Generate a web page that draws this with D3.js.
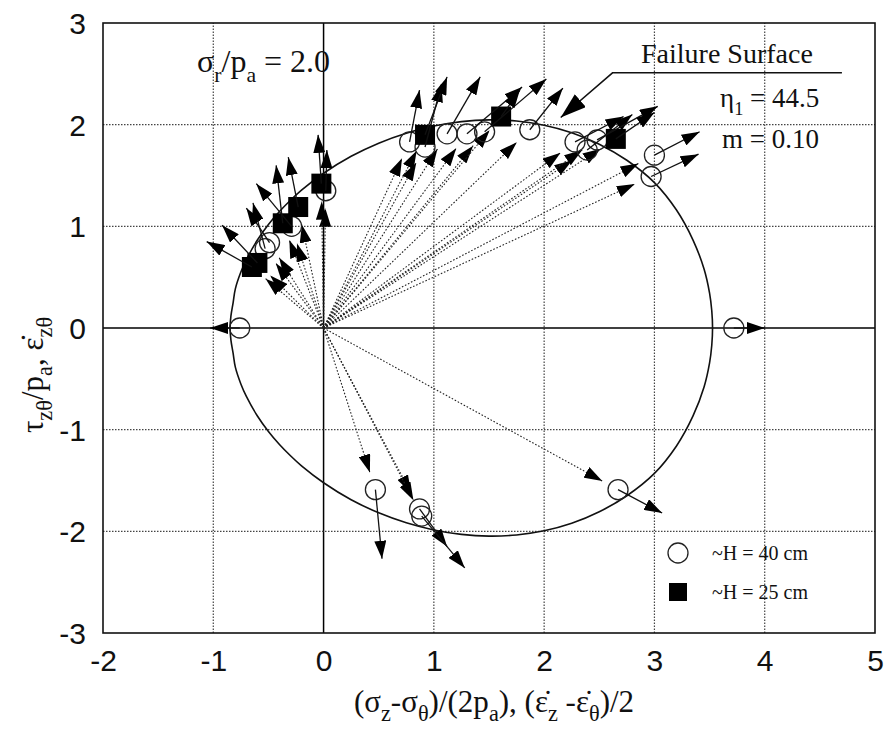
<!DOCTYPE html>
<html>
<head>
<meta charset="utf-8">
<script src="https://cdn.jsdelivr.net/npm/d3@7"></script>
<style>
  body { margin: 0; background: #fff; }
  text { fill: #111; }
</style>
</head>
<body>
<svg id="chart" width="891" height="729"></svg>
<script>
// ---- axis ticks ----
const xTicks = [-2, -1, 0, 1, 2, 3, 4, 5];
const yTicks = [-3, -2, -1, 0, 1, 2, 3];

// ---- failure surface (eta1 = 44.5, m = 0.10, sigma_r/pa = 2.0), upper branch ----
const surfaceX = [-0.848, -0.84, -0.82, -0.80, -0.75, -0.70, -0.60, -0.50, -0.40, -0.30, -0.20, 0.00, 0.25, 0.50, 0.75, 1.00, 1.25, 1.50, 1.75, 2.00, 2.25, 2.50, 2.75, 3.00, 3.20, 3.35, 3.45, 3.50, 3.52, 3.527];
const surfaceY = [0.00, 0.12, 0.25, 0.385, 0.55, 0.673, 0.866, 1.018, 1.146, 1.257, 1.356, 1.522, 1.689, 1.818, 1.916, 1.986, 2.030, 2.047, 2.036, 1.995, 1.921, 1.808, 1.650, 1.430, 1.160, 0.865, 0.580, 0.343, 0.170, 0.00];

// ---- ~H = 40 cm tests: stress state and tip of strain-increment arrow ----
const openX   = [-0.76, 3.72, 0.47, 0.87, 0.89, 2.67, 3.00, 2.97, 2.28, 2.39, 2.48, 0.78, 0.92, 1.12, 1.30, 1.46, 1.87, 0.02, -0.29, -0.49, -0.53];
const openY   = [0.00, 0.00, -1.59, -1.78, -1.85, -1.59, 1.70, 1.49, 1.83, 1.75, 1.85, 1.83, 1.78, 1.91, 1.91, 1.93, 1.95, 1.35, 1.00, 0.84, 0.78];
const openTipX = [-1.03, 4.00, 0.53, 1.12, 1.28, 3.07, 3.41, 3.40, 2.72, 2.80, 3.03, 0.87, 1.07, 1.42, 1.80, 2.02, 2.17, 0.03, -0.61, -0.70, -0.64];
const openTipY = [0.00, 0.00, -2.27, -2.15, -2.36, -1.82, 1.93, 1.71, 2.08, 2.10, 2.18, 2.34, 2.40, 2.47, 2.37, 2.45, 2.36, 1.75, 1.42, 1.18, 1.23];

// ---- ~H = 25 cm tests ----
const filledX   = [0.92, 1.61, 2.65, -0.02, -0.23, -0.37, -0.65, -0.60];
const filledY   = [1.90, 2.08, 1.86, 1.42, 1.19, 1.03, 0.60, 0.64];
const filledTipX = [1.12, 1.78, 3.00, -0.05, -0.32, -0.43, -1.06, -0.92];
const filledTipY = [2.47, 2.34, 2.12, 1.90, 1.68, 1.60, 0.85, 1.01];

// ---- layout ----
const plot = { left: 103, right: 875, top: 23, bottom: 633 };
const x = d3.scaleLinear().domain([-2, 5]).range([plot.left, plot.right]);
const y = d3.scaleLinear().domain([-3, 3]).range([plot.bottom, plot.top]);

const svg = d3.select("#chart");
const SERIF = "'Liberation Serif', 'Times New Roman', Times, serif";
const SANS = "'Liberation Sans', Arial, Helvetica, sans-serif";

// arrowhead markers
const defs = svg.append("defs");
function arrowMarker(id, len, half) {
  defs.append("marker")
    .attr("id", id)
    .attr("markerUnits", "userSpaceOnUse")
    .attr("viewBox", `0 ${-half} ${len} ${2 * half}`)
    .attr("refX", len).attr("refY", 0)
    .attr("markerWidth", len).attr("markerHeight", 2 * half)
    .attr("orient", "auto")
    .append("path")
    .attr("d", `M0,${-half}L${len},0L0,${half}Z`)
    .attr("fill", "#000");
}
arrowMarker("head", 18, 6);
arrowMarker("bighead", 26, 8.5);

// grid: dotted at interior ticks, solid through the origin
const grid = svg.append("g");
xTicks.filter(v => v > -2 && v < 5).forEach(v => {
  grid.append("line")
    .attr("x1", x(v)).attr("x2", x(v)).attr("y1", y(-3)).attr("y2", y(3))
    .attr("stroke", v === 0 ? "#000" : "#444")
    .attr("stroke-width", v === 0 ? 1.5 : 1.2)
    .attr("stroke-dasharray", v === 0 ? null : "1.5,1.5");
});
yTicks.filter(v => v > -3 && v < 3).forEach(v => {
  grid.append("line")
    .attr("y1", y(v)).attr("y2", y(v)).attr("x1", x(-2)).attr("x2", x(5))
    .attr("stroke", v === 0 ? "#000" : "#444")
    .attr("stroke-width", v === 0 ? 1.5 : 1.2)
    .attr("stroke-dasharray", v === 0 ? null : "1.5,1.5");
});

// frame
svg.append("rect")
  .attr("x", x(-2)).attr("y", y(3))
  .attr("width", x(5) - x(-2)).attr("height", y(-3) - y(3))
  .attr("fill", "none").attr("stroke", "#111").attr("stroke-width", 1.6);

// tick labels (no tick marks)
const fmt = d => String(d);
const gx = svg.append("g").attr("transform", `translate(0,${plot.bottom})`)
  .call(d3.axisBottom(x).tickValues(xTicks).tickSize(0).tickPadding(17).tickFormat(fmt));
gx.select(".domain").remove();
gx.selectAll("text").attr("font-family", SANS).attr("font-size", 30).attr("fill", "#111").attr("dy", "0.71em");

const gy = svg.append("g").attr("transform", `translate(${plot.left},0)`)
  .call(d3.axisLeft(y).tickValues(yTicks).tickSize(0).tickPadding(17).tickFormat(fmt));
gy.select(".domain").remove();
gy.selectAll("text").attr("font-family", SANS).attr("font-size", 30).attr("fill", "#111").attr("dy", "0.35em");

// failure surface: upper branch plus its mirror below the axis
const upper = surfaceX.map((v, i) => [v, surfaceY[i]]);
const lower = upper.slice(1, -1).reverse().map(d => [d[0], -d[1]]);
svg.append("path")
  .datum(upper.concat(lower))
  .attr("d", d3.line().x(d => x(d[0])).y(d => y(d[1])).curve(d3.curveCatmullRomClosed.alpha(0.5)))
  .attr("fill", "none").attr("stroke", "#111").attr("stroke-width", 1.6);

// point records
const tests = [];
openX.forEach((v, i) => tests.push({ kind: "open", sx: v, sy: openY[i], tx: openTipX[i], ty: openTipY[i] }));
filledX.forEach((v, i) => tests.push({ kind: "filled", sx: v, sy: filledY[i], tx: filledTipX[i], ty: filledTipY[i] }));

// stress paths from the origin (dotted, arrowhead short of the marker)
const paths = svg.append("g");
tests.filter(d => d.sy !== 0).forEach(d => {
  const x0 = x(0), y0 = y(0), x1 = x(d.sx), y1 = y(d.sy);
  const len = Math.hypot(x1 - x0, y1 - y0);
  const k = (len - 18) / len;
  paths.append("line")
    .attr("x1", x0).attr("y1", y0)
    .attr("x2", x0 + (x1 - x0) * k).attr("y2", y0 + (y1 - y0) * k)
    .attr("stroke", "#222").attr("stroke-width", 1.1)
    .attr("stroke-dasharray", "1.6,1.8")
    .attr("marker-end", "url(#head)");
});

// markers
const marks = svg.append("g");
tests.forEach(d => {
  if (d.kind === "open") {
    marks.append("circle")
      .attr("cx", x(d.sx)).attr("cy", y(d.sy)).attr("r", 10)
      .attr("fill", "none").attr("stroke", "#222").attr("stroke-width", 1.3);
  } else {
    marks.append("rect")
      .attr("x", x(d.sx) - 10).attr("y", y(d.sy) - 10)
      .attr("width", 20).attr("height", 20).attr("fill", "#000");
  }
});

// strain-increment directions (solid arrows from each stress state)
const strains = svg.append("g");
tests.forEach(d => {
  strains.append("line")
    .attr("x1", x(d.sx)).attr("y1", y(d.sy))
    .attr("x2", x(d.tx)).attr("y2", y(d.ty))
    .attr("stroke", "#111").attr("stroke-width", 1.3)
    .attr("marker-end", "url(#head)");
});

// rich text helper: segments of [text, "sub"|null]
function richText(g, segs, size, subScale = 0.68) {
  const t = g.append("text").attr("font-family", SERIF).attr("font-size", size);
  let shifted = false;
  segs.forEach(([s, mode]) => {
    const ts = t.append("tspan").text(s);
    if (mode === "sub" && !shifted) { ts.attr("dy", size * 0.3).attr("font-size", size * subScale); shifted = true; }
    else if (mode === "sub") { ts.attr("font-size", size * subScale); }
    else if (shifted) { ts.attr("dy", -size * 0.3); shifted = false; }
  });
  return t;
}

// confining stress note
richText(svg, [["σ"], ["r", "sub"], ["/p"], ["a", "sub"], [" = 2.0"]], 32)
  .attr("x", 197).attr("y", 72);

// failure surface label with leader
svg.append("text").attr("font-family", SERIF).attr("font-size", 28)
  .attr("x", 641).attr("y", 63).text("Failure Surface");
const leader = [[4.70, 2.51], [2.62, 2.51], [2.15, 2.07]];
svg.append("path")
  .attr("d", d3.line().x(d => x(d[0])).y(d => y(d[1]))(leader))
  .attr("fill", "none").attr("stroke", "#111").attr("stroke-width", 1.5)
  .attr("marker-end", "url(#bighead)");
richText(svg, [["η"], ["1", "sub"], [" = 44.5"]], 27).attr("x", 720).attr("y", 107);
svg.append("text").attr("font-family", SERIF).attr("font-size", 27)
  .attr("x", 722).attr("y", 148).text("m = 0.10");

// legend
const legend = svg.append("g");
legend.append("circle").attr("cx", 678).attr("cy", 553).attr("r", 10)
  .attr("fill", "none").attr("stroke", "#222").attr("stroke-width", 1.3);
legend.append("text").attr("font-family", SERIF).attr("font-size", 20)
  .attr("x", 712).attr("y", 560).text("~H = 40 cm");
legend.append("rect").attr("x", 669).attr("y", 583).attr("width", 18).attr("height", 18).attr("fill", "#000");
legend.append("text").attr("font-family", SERIF).attr("font-size", 20)
  .attr("x", 712).attr("y", 599).text("~H = 25 cm");

// axis titles
richText(svg, [["(σ"], ["z", "sub"], ["-σ"], ["θ", "sub"], [")/(2p"], ["a", "sub"], ["), (ε̇"], ["z", "sub"], [" -ε̇"], ["θ", "sub"], [")/2"]], 31, 0.72)
  .attr("x", 494).attr("y", 712).attr("text-anchor", "middle");

richText(svg, [["τ"], ["zθ", "sub"], ["/p"], ["a", "sub"], [", ε̇"], ["zθ", "sub"]], 31, 0.72)
  .attr("text-anchor", "middle")
  .attr("transform", "translate(43,375) rotate(-90)");
</script>
</body>
</html>
